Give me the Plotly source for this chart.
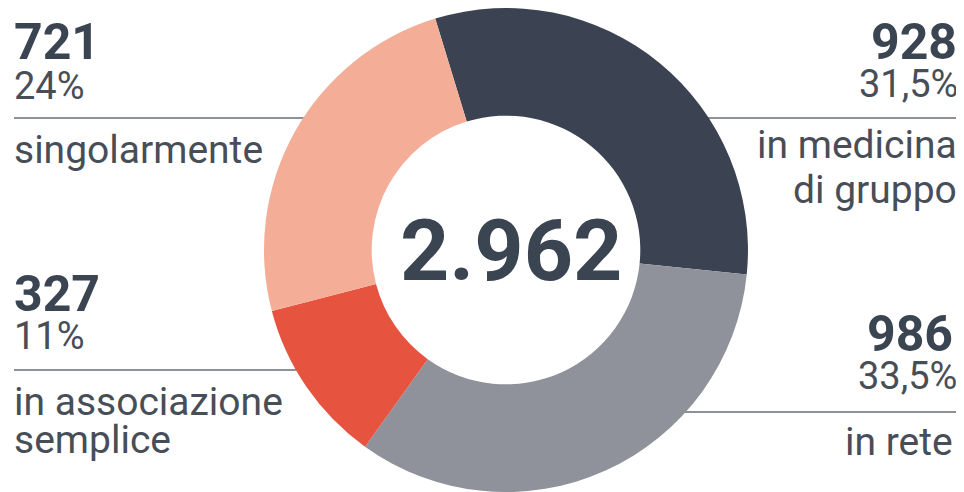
import plotly.graph_objects as go

# The page body has an 8px margin, so the figure is 8px smaller on each side
OFF = 8
W, H = 964 - OFF, 492 - OFF

categories = ["in medicina<br>di gruppo", "in rete", "in associazione<br>semplice", "singolarmente"]
values = [928, 986, 327, 721]
pct_labels = ["31,5%", "33,5%", "11%", "24%"]
count_labels = ["928", "986", "327", "721"]
total_label = "2.962"
colors = ["#3b4352", "#8f919b", "#e6533f", "#f4ae98"]

DARK = "#3b4552"
TEXT = "#474e57"
LINE = "#8e9196"

fig = go.Figure()
fig.add_trace(go.Pie(
    values=values,
    labels=categories,
    marker=dict(colors=colors, line=dict(width=0)),
    hole=0.555,
    sort=False,
    direction="clockwise",
    rotation=-17,
    textinfo="none",
    hoverinfo="skip",
    showlegend=False,
    domain=dict(x=[0.1, 0.9418], y=[0.0, 1.0]),
))


def px(x):
    return (x - OFF) / W


def py(y):
    return 1 - (y - OFF) / H


annotations = []


def ann(text, x, y, size, weight, xanchor, color):
    annotations.append(dict(
        text=text, x=px(x), y=py(y), xref="paper", yref="paper",
        xanchor=xanchor, yanchor="middle", showarrow=False, align=xanchor,
        font=dict(family="Roboto", size=size, color=color, weight=weight),
    ))


def label_lines(text, x, ys, xanchor):
    for line, y in zip(text.split("<br>"), ys):
        ann(line, x, y, 39, 400, xanchor, TEXT)


# left-top block (singolarmente)
ann(count_labels[3], 12, 42, 50, 700, "left", DARK)
ann(pct_labels[3], 12, 86, 38, 400, "left", TEXT)
label_lines(categories[3], 12, [150], "left")
# left-bottom block (associazione semplice)
ann(count_labels[2], 12, 294, 50, 700, "left", DARK)
ann(pct_labels[2], 12, 336, 38, 400, "left", TEXT)
label_lines(categories[2], 12, [402, 440], "left")
# right-top block (medicina di gruppo)
ann(count_labels[0], 959, 42, 50, 700, "right", DARK)
ann(pct_labels[0], 960, 84, 38, 400, "right", TEXT)
label_lines(categories[0], 959, [145, 190], "right")
# right-bottom block (rete)
ann(count_labels[1], 955, 334, 50, 700, "right", DARK)
ann(pct_labels[1], 959, 376, 38, 400, "right", TEXT)
label_lines(categories[1], 955, [442], "right")
# centre total
annotations.append(dict(
    text=total_label, x=px(511), y=py(250), xref="paper", yref="paper",
    xanchor="center", yanchor="middle", showarrow=False,
    font=dict(family="Roboto", size=86, color=DARK, weight=700),
))


def hline(x0, x1, y):
    return dict(type="line", xref="paper", yref="paper", x0=px(x0), x1=px(x1),
                y0=py(y), y1=py(y), line=dict(color=LINE, width=2), layer="below")


shapes = [
    hline(14, 330, 118),
    hline(14, 320, 370),
    hline(690, 957, 118),
    hline(680, 957, 412),
]

fig.update_layout(
    width=W, height=H,
    margin=dict(l=0, r=0, t=0, b=0),
    paper_bgcolor="white", plot_bgcolor="white",
    annotations=annotations, shapes=shapes,
)

fig.write_html("out.html", config={"displayModeBar": False})
